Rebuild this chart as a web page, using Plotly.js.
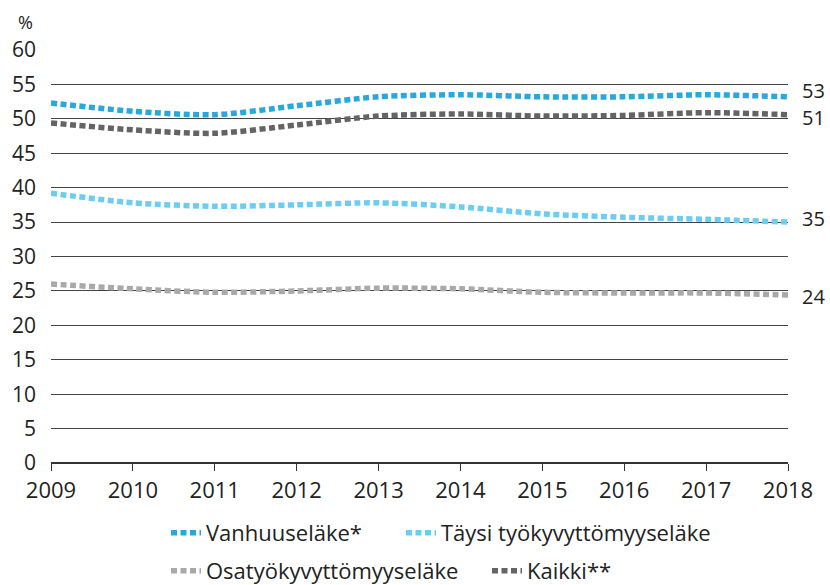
<!DOCTYPE html>
<html>
<head>
<meta charset="utf-8">
<script src="https://cdn.plot.ly/plotly-3.0.1.min.js"></script>
<style>html,body{margin:0;padding:0;background:#fff;}#chart{width:830px;height:585px;}</style>
</head>
<body>
<div id="chart"></div>
<script>
var years = [2009, 2010, 2011, 2012, 2013, 2014, 2015, 2016, 2017, 2018];
var vanhuus = [52.3, 51.1, 50.6, 51.9, 53.2, 53.5, 53.2, 53.2, 53.5, 53.2];
var taysi = [39.2, 37.8, 37.3, 37.5, 37.8, 37.2, 36.2, 35.7, 35.4, 35.0];
var osa = [26.0, 25.3, 24.8, 25.0, 25.4, 25.3, 24.8, 24.7, 24.7, 24.4];
var kaikki = [49.4, 48.4, 47.9, 49.1, 50.4, 50.7, 50.4, 50.5, 50.9, 50.6];
var seriesNames = ['Vanhuuseläke*', 'Täysi työkyvyttömyyseläke', 'Osatyökyvyttömyyseläke', 'Kaikki**'];
var endLabels = ['53', '35', '24', '51'];
var yTicks = [0, 5, 10, 15, 20, 25, 30, 35, 40, 45, 50, 55, 60];

var colors = ['#29a8e0', '#6ccdf3', '#a9a9ab', '#646466'];
var data = [vanhuus, taysi, osa, kaikki];
var legendIds = ['legend', 'legend2', 'legend3', 'legend4'];
var labelShift = [6, 4, -1, -3];
var font = '"Open Sans", "DejaVu Sans", sans-serif';
var fs = 22;

var traces = data.map(function (d, i) {
  return {
    x: years, y: d, name: seriesNames[i], type: 'scatter', mode: 'lines',
    line: {color: colors[i], width: 5.5, dash: '6px,3.5px', shape: 'spline', smoothing: 0.8},
    legend: legendIds[i], hoverinfo: 'skip'
  };
});

var annotations = data.map(function (d, i) {
  return {
    x: years[years.length - 1], y: d[d.length - 1], xref: 'x', yref: 'y',
    text: endLabels[i], showarrow: false, xanchor: 'left', xshift: 12, yshift: labelShift[i],
    font: {family: font, size: 20, color: '#222'}
  };
});
annotations.push({
  x: 0, y: 1, xref: 'paper', yref: 'paper', xshift: -35, yshift: 28,
  text: '%', showarrow: false, xanchor: 'left', yanchor: 'middle',
  font: {family: font, size: 18, color: '#222'}
});

function leg(xpx, ypx) {
  return {
    orientation: 'h', xref: 'container', yref: 'container',
    x: xpx / 830, xanchor: 'left', y: 1 - ypx / 585, yanchor: 'middle',
    font: {family: font, size: fs, color: '#222'}, itemwidth: 30,
    bgcolor: 'rgba(0,0,0,0)'
  };
}

var layout = {
  width: 830, height: 585,
  margin: {l: 51, r: 42, t: 50, b: 122, autoexpand: false},
  paper_bgcolor: '#fff', plot_bgcolor: '#fff',
  font: {family: font, size: fs, color: '#222'},
  xaxis: {
    range: [2009, 2018], tickvals: years, ticks: 'outside', ticklen: 7, tickcolor: '#333',
    showgrid: false, zeroline: false, showline: false, fixedrange: true,
    tickfont: {family: font, size: 22, color: '#222'}, ticklabelstandoff: 1
  },
  yaxis: {
    range: [0, 60], tickvals: yTicks, showgrid: true, gridcolor: '#444', gridwidth: 1,
    zeroline: true, zerolinecolor: '#333', zerolinewidth: 1.5, showline: false,
    ticks: '', ticklabelstandoff: 14,
    tickfont: {family: font, size: 21, color: '#222'}
  },
  showlegend: true,
  legend: leg(166, 533),
  legend2: leg(401, 533),
  legend3: leg(166, 571),
  legend4: leg(487, 571),
  annotations: annotations
};

Plotly.newPlot('chart', traces, layout, {displayModeBar: false, staticPlot: true});
</script>
</body>
</html>
